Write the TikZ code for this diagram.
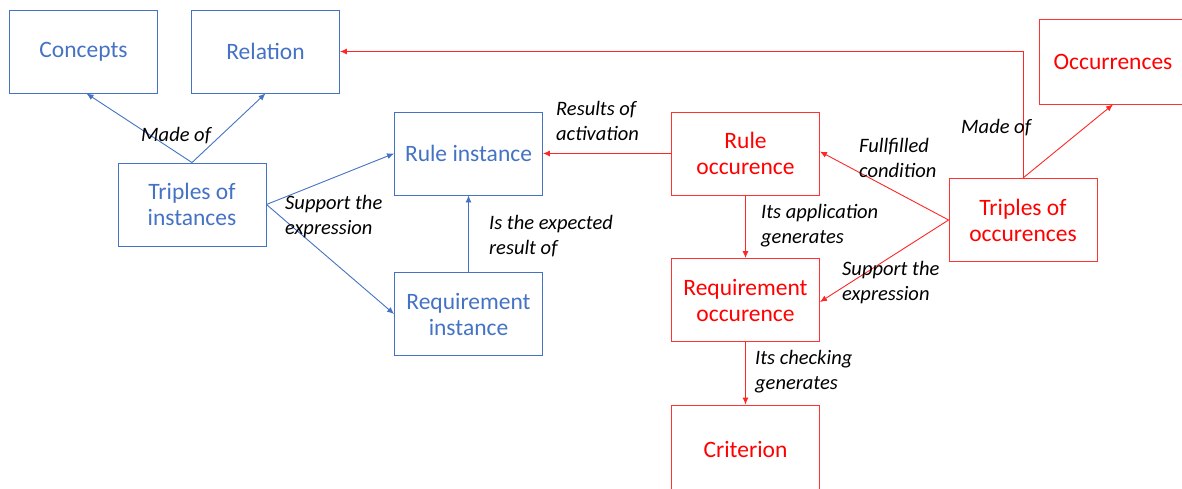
\documentclass[tikz,border=0pt]{standalone}
\usepackage{fontspec}
\setmainfont{Carlito}
\usetikzlibrary{arrows.meta}
\definecolor{instblue}{RGB}{68,114,196}
\definecolor{occred}{RGB}{255,0,0}
\tikzset{
  box/.style={draw, line width=0.9pt, minimum width=148pt, minimum height=83pt,
    align=center, inner sep=0pt, font=\fontsize{23.5}{26}\selectfont},
  bluebox/.style={box, draw=instblue, text=instblue},
  redbox/.style={box, draw=occred!80, text=occred},
  link/.style={line width=0.9pt, -{Latex[length=7pt,width=6pt]}},
  bluelink/.style={link, draw=instblue},
  redlink/.style={link, draw=occred!85},
  lbl/.style={font=\fontsize{20.5}{25}\selectfont\itshape, align=left, anchor=west,
    inner sep=0pt, text=black}
}
\begin{document}
\begin{tikzpicture}[x=1pt,y=-1pt]
\useasboundingbox (0,0) rectangle (1182,489);

% instance level (blue)
\node[bluebox] (conc) at (83.5,51.5) {Concepts};
\node[bluebox] (rel) at (265.5,51.5) {Relation};
\node[bluebox] (tinst) at (192,204.5) {Triples of\\instances};
\node[bluebox] (rinst) at (468.5,153.5) {Rule instance};
\node[bluebox] (qinst) at (468.5,314) {Requirement\\instance};

% occurrence level (red)
\node[redbox] (rocc) at (745.5,153.5) {Rule\\occurence};
\node[redbox] (qocc) at (745.5,300) {Requirement\\occurence};
\node[redbox, minimum height=88pt] (crit) at (745.5,449) {Criterion};
\node[redbox, minimum height=85pt] (occs) at (1113,61.5) {Occurrences};
\node[redbox] (tocc) at (1023,220) {Triples of\\occurences};

% blue connectors
\draw[bluelink] (tinst.north) -- ([xshift=3pt]conc.south);
\draw[bluelink] (tinst.north) -- (rel.south);
\draw[bluelink] (tinst.east) -- (rinst.west);
\draw[bluelink] (tinst.east) -- (qinst.west);
\draw[bluelink] (qinst.north) -- (rinst.south);

% red connectors
\draw[redlink] (rocc.west) -- (rinst.east);
\draw[redlink] (tocc.north) |- (rel.east);
\draw[redlink] (tocc.north) -- (occs.south);
\draw[redlink] (tocc.west) -- ([yshift=2pt]rocc.east);
\draw[redlink] (tocc.west) -- ([yshift=-2pt]qocc.east);
\draw[redlink] (rocc.south) -- (qocc.north);
\draw[redlink] (qocc.south) -- (crit.north);

% connector labels
\node[lbl] (l1) at (141,136) {Made of};
\node[lbl] (l2) at (285,217) {Support the\\expression};
\node[lbl] (l3) at (556,121) {Results of\\activation};
\node[lbl] (l4) at (489,236) {Is the expected\\result of};
\node[lbl] (l5) at (859,158) {Fullfilled\\condition};
\node[lbl] (l6) at (761,226) {Its application\\generates};
\node[lbl] (l7) at (842,283) {Support the\\expression};
\node[lbl] (l8) at (755,372) {Its checking\\generates};
\node[lbl] (l9) at (961,128) {Made of};
\end{tikzpicture}
\end{document}
